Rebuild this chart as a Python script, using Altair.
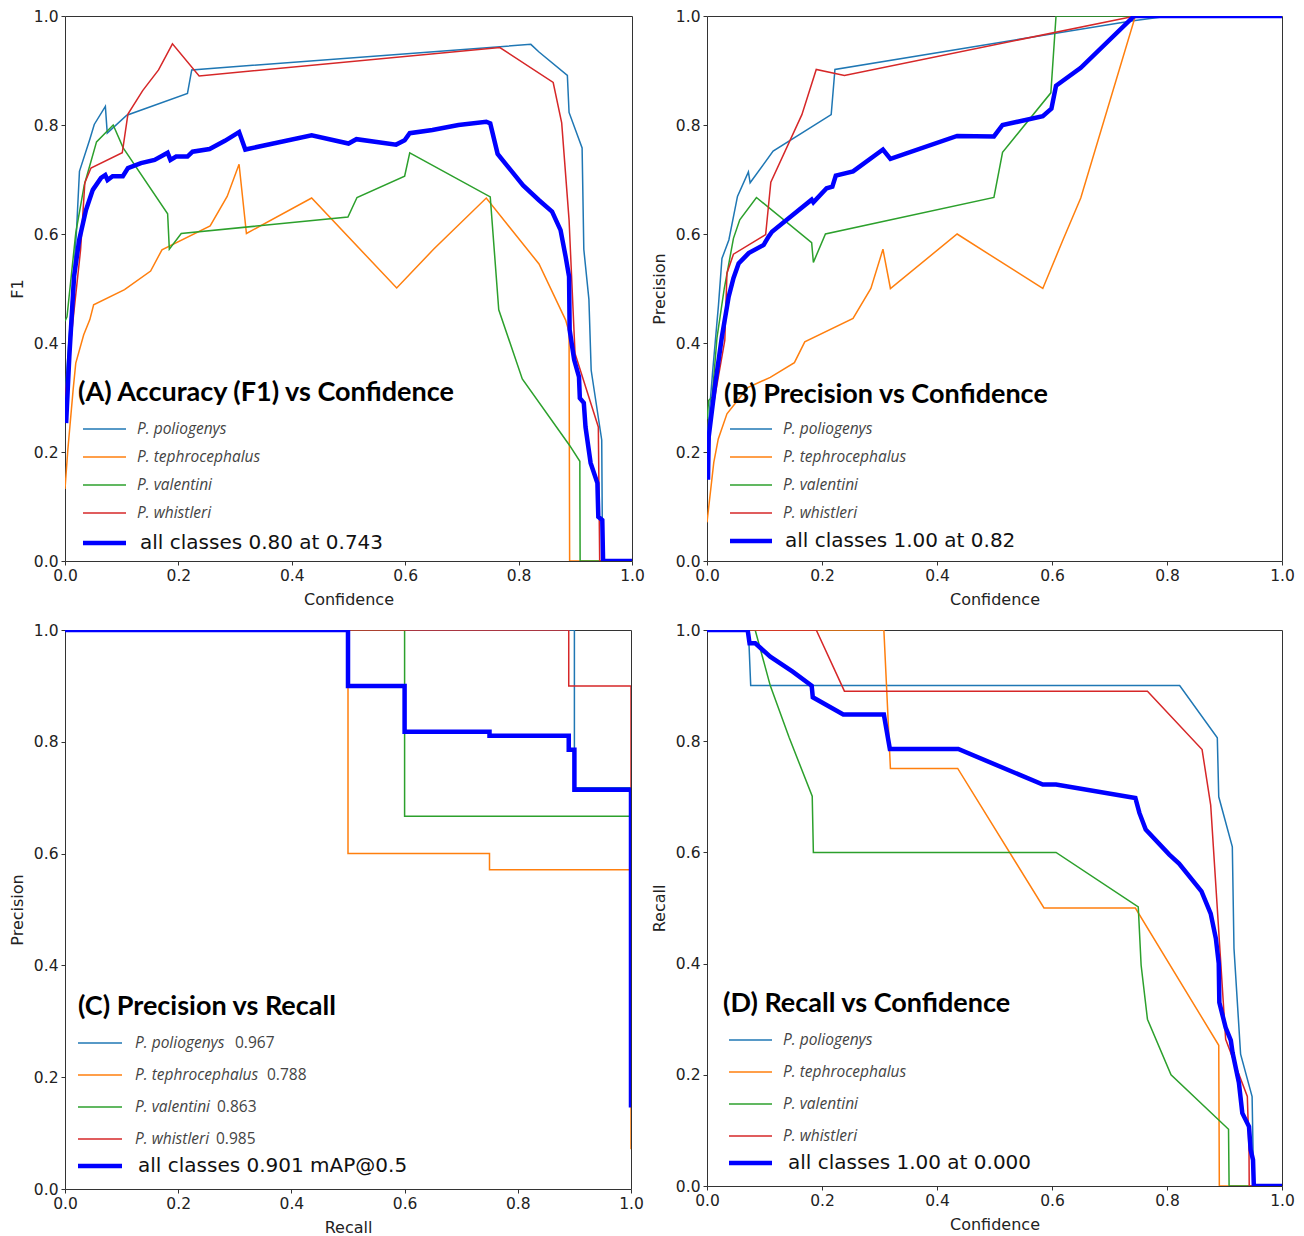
import altair as alt
import pandas as pd

CLASSES = ["P. poliogenys", "P. tephrocephalus", "P. valentini", "P. whistleri"]
COLORS = ["#1f77b4", "#ff7f0e", "#2ca02c", "#d62728"]
ALL_COLOR = "#0000ff"
TICKS = [0.0, 0.2, 0.4, 0.6, 0.8, 1.0]

# ---------------- (A) F1 vs Confidence ----------------
A_pol_x = [0.0, 0.01, 0.02, 0.0255, 0.0438, 0.0516, 0.0712, 0.0745, 0.109, 0.216, 0.2235, 0.8216, 0.836, 0.886, 0.889, 0.912, 0.915, 0.924, 0.928, 0.9466, 0.9476, 0.948, 1.0]
A_pol_y = [0.30, 0.45, 0.60, 0.715, 0.774, 0.801, 0.834, 0.785, 0.818, 0.858, 0.901, 0.948, 0.934, 0.891, 0.823, 0.758, 0.572, 0.480, 0.350, 0.222, 0.070, 0.0, 0.0]
A_teph_x = [0.0, 0.005, 0.0144, 0.019, 0.033, 0.0438, 0.0505, 0.105, 0.151, 0.171, 0.256, 0.286, 0.307, 0.320, 0.435, 0.585, 0.650, 0.743, 0.836, 0.883, 0.889, 0.890, 1.0]
A_teph_y = [0.132, 0.204, 0.315, 0.363, 0.415, 0.443, 0.470, 0.498, 0.532, 0.571, 0.615, 0.669, 0.728, 0.601, 0.666, 0.501, 0.572, 0.666, 0.545, 0.442, 0.42, 0.0, 0.0]
A_val_x = [0.0, 0.0035, 0.019, 0.034, 0.0556, 0.085, 0.1026, 0.181, 0.184, 0.205, 0.499, 0.515, 0.599, 0.608, 0.750, 0.765, 0.8065, 0.890, 0.908, 0.9085, 1.0]
A_val_y = [0.44, 0.448, 0.602, 0.69, 0.769, 0.800, 0.758, 0.637, 0.572, 0.601, 0.631, 0.667, 0.706, 0.749, 0.668, 0.461, 0.334, 0.212, 0.183, 0.0, 0.0]
A_whi_x = [0.0, 0.015, 0.0275, 0.035, 0.0458, 0.101, 0.111, 0.137, 0.165, 0.1895, 0.2366, 0.767, 0.861, 0.876, 0.889, 0.8995, 0.9406, 0.943, 1.0]
A_whi_y = [0.30, 0.45, 0.571, 0.694, 0.721, 0.749, 0.820, 0.863, 0.901, 0.949, 0.890, 0.942, 0.878, 0.804, 0.626, 0.381, 0.246, 0.0, 0.0]
A_all_x = [0.002, 0.0076, 0.016, 0.025, 0.037, 0.049, 0.0635, 0.071, 0.075, 0.084, 0.102, 0.111, 0.134, 0.158, 0.181, 0.186, 0.196, 0.216, 0.225, 0.255, 0.282, 0.307, 0.318, 0.435, 0.500, 0.514, 0.584, 0.599, 0.608, 0.648, 0.694, 0.743, 0.750, 0.763, 0.808, 0.836, 0.859, 0.874, 0.883, 0.889, 0.890, 0.898, 0.9065, 0.908, 0.915, 0.918, 0.927, 0.939, 0.9406, 0.9476, 0.949, 1.0]
A_all_y = [0.253, 0.375, 0.522, 0.589, 0.644, 0.681, 0.703, 0.708, 0.699, 0.706, 0.706, 0.721, 0.730, 0.736, 0.749, 0.736, 0.742, 0.742, 0.751, 0.756, 0.771, 0.787, 0.755, 0.781, 0.766, 0.774, 0.764, 0.772, 0.785, 0.791, 0.800, 0.806, 0.803, 0.747, 0.689, 0.662, 0.641, 0.607, 0.558, 0.522, 0.424, 0.369, 0.338, 0.299, 0.290, 0.246, 0.180, 0.143, 0.081, 0.075, 0.0, 0.0]

# ---------------- (B) Precision vs Confidence ----------------
B_pol_x = [0.0, 0.01, 0.02, 0.026, 0.038, 0.053, 0.072, 0.075, 0.115, 0.216, 0.2225, 0.738, 0.804, 1.0]
B_pol_y = [0.22, 0.35, 0.47, 0.555, 0.589, 0.669, 0.714, 0.694, 0.752, 0.819, 0.902, 0.991, 1.0, 1.0]
B_teph_x = [0.0, 0.0118, 0.0196, 0.0347, 0.0707, 0.110, 0.152, 0.170, 0.254, 0.285, 0.306, 0.319, 0.435, 0.584, 0.619, 0.650, 0.745, 1.0]
B_teph_y = [0.071, 0.181, 0.224, 0.270, 0.318, 0.337, 0.364, 0.402, 0.445, 0.500, 0.572, 0.500, 0.600, 0.500, 0.589, 0.666, 1.0, 1.0]
B_val_x = [0.0, 0.003, 0.009, 0.0174, 0.03, 0.046, 0.057, 0.086, 0.182, 0.185, 0.206, 0.499, 0.514, 0.598, 0.607, 1.0]
B_val_y = [0.26, 0.295, 0.301, 0.41, 0.50, 0.592, 0.626, 0.667, 0.584, 0.548, 0.600, 0.667, 0.750, 0.859, 1.0, 1.0]
B_whi_x = [0.0, 0.031, 0.0347, 0.046, 0.102, 0.111, 0.165, 0.190, 0.239, 0.745, 1.0]
B_whi_y = [0.22, 0.405, 0.528, 0.563, 0.599, 0.695, 0.819, 0.902, 0.891, 1.0, 1.0]
B_all_x = [0.0017, 0.003, 0.0145, 0.026, 0.0377, 0.046, 0.055, 0.0725, 0.0986, 0.107, 0.113, 0.149, 0.182, 0.185, 0.208, 0.218, 0.224, 0.254, 0.306, 0.319, 0.435, 0.499, 0.514, 0.584, 0.599, 0.607, 0.650, 0.743, 1.0]
B_all_y = [0.149, 0.228, 0.326, 0.412, 0.485, 0.519, 0.546, 0.565, 0.580, 0.595, 0.604, 0.635, 0.663, 0.658, 0.684, 0.687, 0.707, 0.715, 0.755, 0.738, 0.780, 0.779, 0.800, 0.816, 0.830, 0.872, 0.905, 1.0, 1.0]

# ---------------- (C) Precision vs Recall ----------------
C_pol_x = [0.0, 0.9, 0.9, 1.0, 1.0]
C_pol_y = [1.0, 1.0, 0.718, 0.718, 0.17]
C_teph_x = [0.0, 0.5, 0.5, 0.75, 0.75, 1.0, 1.0]
C_teph_y = [1.0, 1.0, 0.6, 0.6, 0.571, 0.571, 0.071]
C_val_x = [0.0, 0.6, 0.6, 1.0, 1.0]
C_val_y = [1.0, 1.0, 0.667, 0.667, 0.17]
C_whi_x = [0.0, 0.89, 0.89, 1.0, 1.0]
C_whi_y = [1.0, 1.0, 0.9, 0.9, 0.17]
C_all_x = [0.0, 0.5, 0.5, 0.6, 0.6, 0.75, 0.75, 0.89, 0.89, 0.9, 0.9, 1.0, 1.0]
C_all_y = [1.0, 1.0, 0.9, 0.9, 0.818, 0.818, 0.811, 0.811, 0.786, 0.786, 0.714, 0.714, 0.146]
C_scores = ["0.967", "0.788", "0.863", "0.985"]

# ---------------- (D) Recall vs Confidence ----------------
D_pol_x = [0.0, 0.072, 0.076, 0.822, 0.8875, 0.890, 0.9136, 0.9165, 0.928, 0.948, 0.9496, 0.95, 1.0]
D_pol_y = [1.0, 1.0, 0.9, 0.9, 0.806, 0.70, 0.61, 0.427, 0.237, 0.161, 0.065, 0.0, 0.0]
D_teph_x = [0.0, 0.3076, 0.319, 0.436, 0.586, 0.745, 0.890, 0.891, 1.0]
D_teph_y = [1.0, 1.0, 0.751, 0.751, 0.5, 0.5, 0.253, 0.0, 0.0]
D_val_x = [0.0, 0.0838, 0.110, 0.1427, 0.183, 0.185, 0.607, 0.750, 0.755, 0.766, 0.807, 0.907, 0.908, 1.0]
D_val_y = [1.0, 1.0, 0.9, 0.807, 0.701, 0.6, 0.6, 0.502, 0.397, 0.3, 0.2, 0.102, 0.0, 0.0]
D_whi_x = [0.0, 0.19, 0.239, 0.766, 0.861, 0.876, 0.902, 0.9397, 0.9426, 0.943, 1.0]
D_whi_y = [1.0, 1.0, 0.89, 0.89, 0.785, 0.685, 0.264, 0.161, 0.065, 0.0, 0.0]
D_all_x = [0.0, 0.0707, 0.074, 0.084, 0.110, 0.149, 0.182, 0.184, 0.237, 0.3076, 0.318, 0.437, 0.584, 0.607, 0.745, 0.752, 0.763, 0.804, 0.821, 0.860, 0.876, 0.885, 0.890, 0.891, 0.902, 0.911, 0.914, 0.925, 0.931, 0.9426, 0.9455, 0.9496, 0.951, 1.0]
D_all_y = [1.0, 1.0, 0.976, 0.976, 0.952, 0.925, 0.900, 0.879, 0.848, 0.848, 0.786, 0.786, 0.722, 0.722, 0.698, 0.671, 0.641, 0.596, 0.58, 0.53, 0.49, 0.445, 0.40, 0.33, 0.285, 0.262, 0.24, 0.186, 0.131, 0.107, 0.065, 0.047, 0.0, 0.0]


def thin_df(xs_list, ys_list):
    rows = []
    for k, (xs, ys) in enumerate(zip(xs_list, ys_list)):
        assert len(xs) == len(ys)
        for i, (x, y) in enumerate(zip(xs, ys)):
            rows.append({"s": CLASSES[k], "i": i, "x": x, "y": y})
    return pd.DataFrame(rows)


def all_df(xs, ys):
    assert len(xs) == len(ys)
    return pd.DataFrame({"i": list(range(len(xs))), "x": xs, "y": ys})


COLOR_SCALE = alt.Scale(domain=CLASSES, range=COLORS)


def panel(thin, allc, all_label, title, xtitle, ytitle, w, h, lay, scores=None):
    xs = alt.Scale(domain=[0, 1], nice=False, zero=False)
    ys = alt.Scale(domain=[0, 1], nice=False, zero=False)
    xax = alt.Axis(values=TICKS, format=".1f", title=xtitle)
    yax = alt.Axis(values=TICKS, format=".1f", title=ytitle)

    def X(f="x"):
        return alt.X(f"{f}:Q", scale=xs, axis=xax)

    def Y(f="y"):
        return alt.Y(f"{f}:Q", scale=ys, axis=yax)

    thin_layer = alt.Chart(thin).mark_line(strokeWidth=1.5, clip=True).encode(
        x=X(), y=Y(), color=alt.Color("s:N", scale=COLOR_SCALE, legend=None), order="i:Q")
    thick_layer = alt.Chart(allc).mark_line(color=ALL_COLOR, strokeWidth=4.5, clip=True).encode(
        x=X(), y=Y(), order="i:Q")

    # legend rows (positions are layout offsets in px from plot's top-left)
    ry = [1 - r / h for r in lay["rows"]]
    leg_lines = pd.DataFrame({"s": CLASSES, "x": [lay["l0"] / w] * 4, "x2": [lay["l1"] / w] * 4, "y": ry})
    leg_text = pd.DataFrame({"s": CLASSES, "x": [lay["lab"] / w] * 4, "y": ry})
    rule_l = alt.Chart(leg_lines).mark_rule(strokeWidth=1.5).encode(
        x=X(), x2="x2:Q", y=Y(), color=alt.Color("s:N", scale=COLOR_SCALE, legend=None))
    text_l = alt.Chart(leg_text).mark_text(align="left", baseline="middle", font="Open Sans",
                                           fontStyle="italic", fontSize=15.5, color="#444").encode(
        x=X(), y=Y(), text="s:N")
    ay = 1 - lay["all_row"] / h
    all_line = pd.DataFrame({"x": [lay["l0"] / w], "x2": [lay["l1"] / w], "y": [ay]})
    all_text = pd.DataFrame({"x": [lay["all"] / w], "y": [ay], "t": [all_label]})
    rule_a = alt.Chart(all_line).mark_rule(strokeWidth=4.5, color=ALL_COLOR).encode(x=X(), x2="x2:Q", y=Y())
    text_a = alt.Chart(all_text).mark_text(align="left", baseline="middle", font="DejaVu Sans",
                                           fontSize=20, color="#111").encode(x=X(), y=Y(), text="t:N")
    title_l = alt.Chart(pd.DataFrame({"t": [title]})).mark_text(
        align="left", baseline="middle", font="Lato", fontWeight="bold", fontSize=27, color="#000").encode(
        x=alt.value(lay["tx"]), y=alt.value(lay["ty"]), text="t:N")
    layers = [thin_layer, thick_layer, rule_l, text_l, rule_a, text_a, title_l]
    if scores is not None:
        sc = pd.DataFrame({"x": [v / w for v in lay["scx"]], "y": ry, "t": scores})
        layers.append(alt.Chart(sc).mark_text(align="left", baseline="middle", font="Open Sans",
                                              fontSize=15.5, color="#444").encode(x=X(), y=Y(), text="t:N"))
    return alt.layer(*layers).properties(width=w, height=h)


A = panel(thin_df([A_pol_x, A_teph_x, A_val_x, A_whi_x], [A_pol_y, A_teph_y, A_val_y, A_whi_y]),
          all_df(A_all_x, A_all_y), "all classes 0.80 at 0.743", "(A) Accuracy (F1) vs Confidence",
          "Confidence", "F1", 567, 545,
          dict(l0=18, l1=61, lab=72, all=75, rows=[413, 441, 469, 497], all_row=527, tx=13, ty=377))
B = panel(thin_df([B_pol_x, B_teph_x, B_val_x, B_whi_x], [B_pol_y, B_teph_y, B_val_y, B_whi_y]),
          all_df(B_all_x, B_all_y), "all classes 1.00 at 0.82", "(B) Precision vs Confidence",
          "Confidence", "Precision", 575, 545,
          dict(l0=23, l1=65, lab=76, all=78, rows=[413, 441, 469, 497], all_row=525, tx=17, ty=379))
C = panel(thin_df([C_pol_x, C_teph_x, C_val_x, C_whi_x], [C_pol_y, C_teph_y, C_val_y, C_whi_y]),
          all_df(C_all_x, C_all_y), "all classes 0.901 mAP@0.5", "(C) Precision vs Recall",
          "Recall", "Precision", 566, 559,
          dict(l0=13, l1=57, lab=70, all=73, rows=[413, 445, 477, 509], all_row=536, tx=13, ty=377,
               scx=[170, 202, 152, 151]), scores=C_scores)
D = panel(thin_df([D_pol_x, D_teph_x, D_val_x, D_whi_x], [D_pol_y, D_teph_y, D_val_y, D_whi_y]),
          all_df(D_all_x, D_all_y), "all classes 1.00 at 0.000", "(D) Recall vs Confidence",
          "Confidence", "Recall", 575, 556,
          dict(l0=22, l1=65, lab=76, all=81, rows=[410, 442, 474, 506], all_row=533, tx=16, ty=374))

chart = alt.concat(
    A, B, C, D, columns=2,
    spacing=alt.RowColnumber(row=69, column=75), bounds="flush",
).properties(padding=0).configure_view(
    stroke="#333", strokeWidth=1
).configure_axis(
    domain=False, grid=False, ticks=True, tickColor="#333", tickSize=4, tickWidth=1,
    labelFont="DejaVu Sans", labelFontSize=15.5, labelColor="#222", labelFlush=False,
    labelPadding=3, labelOverlap=False,
    titleFont="DejaVu Sans", titleFontSize=16, titleFontWeight="normal", titleColor="#222",
).configure_axisX(titlePadding=8).configure_axisY(titlePadding=8)

chart.save("out.html", embed_options={"renderer": "svg", "actions": False})
